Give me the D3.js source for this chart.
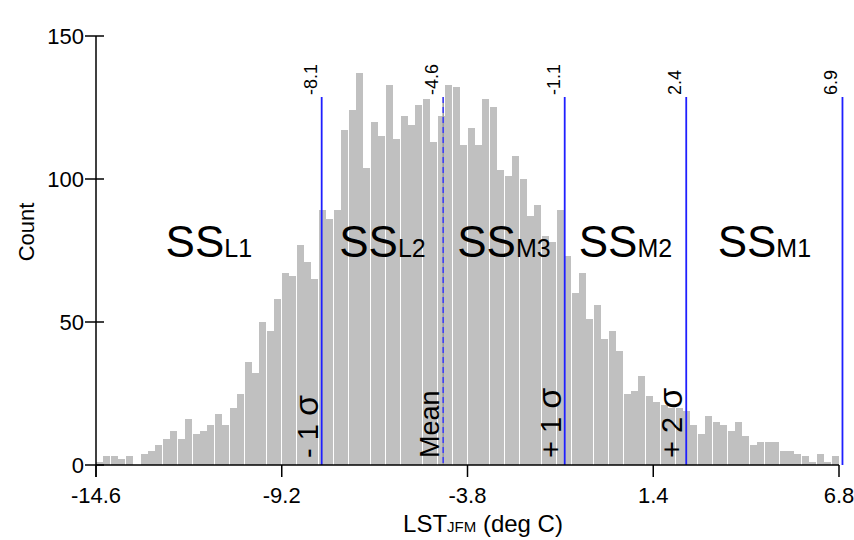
<!DOCTYPE html>
<html><head><meta charset="utf-8">
<script src="https://cdn.jsdelivr.net/npm/d3@7"></script>
<style>body{margin:0;background:#fff} text{font-family: Arial, "Liberation Sans", sans-serif; fill:#000}</style>
</head><body><svg id="c" width="854" height="540"></svg>
<script>
// ---- data ----
const binStart = -14.6;
const binWidth = 0.214;
const counts = [1,3,3,2,3,0,4,5,7,9,
  12,9,16,11,12,14,18,14,20,25,
  36,32,50,47,58,67,66,77,71,65,
  89,86,89,117,124,137,104,120,115,133,
  114,122,119,126,128,113,122,133,132,112,
  118,112,128,125,103,101,108,100,87,91,
  80,78,89,73,60,67,51,56,44,47,
  40,25,26,31,24,22,21,20,20,19,
  14,11,17,15,14,12,15,10,7,8,
  8,8,5,5,4,3,1,4,1,3];
const xTickValues = [-14.6, -9.25, -3.9, 1.45, 6.8];
const xTickLabels = ["-14.6", "-9.2", "-3.8", "1.4", "6.8"];
const yTickValues = [0, 50, 100, 150];
const cutValues = [-8.1, -4.6, -1.1, 2.4, 6.9];
const cutLabels = ["-8.1", "-4.6", "-1.1", "2.4", "6.9"];
const sigmaPrefix = ["-1", "Mean", "+1", "+2"];
const classMain = ["SS", "SS", "SS", "SS", "SS"];
const classSub = ["L1", "L2", "M3", "M2", "M1"];
const classBounds = [-14.6, -8.1, -4.6, -1.1, 2.4, 6.9];

// ---- layout ----
const svg = d3.select("#c");
const L = 96, R = 839, T = 36, B = 465;
const x = d3.scaleLinear().domain([-14.6, 6.8]).range([L, R]);
const y = d3.scaleLinear().domain([0, 150]).range([B, T]);

const bins = counts.map((c, i) => ({x0: binStart + i * binWidth, x1: binStart + (i + 1) * binWidth, c}));

// bars
svg.append("g").selectAll("rect").data(bins).join("rect")
  .attr("x", d => Math.round(x(d.x0)))
  .attr("width", d => Math.floor(x(d.x1) - x(d.x0)))
  .attr("y", d => Math.round(y(d.c)))
  .attr("height", d => B - Math.round(y(d.c)))
  .attr("fill", "#c0c0c0")
  .attr("shape-rendering", "crispEdges");

// cut lines
const lineTop = 97;
cutValues.forEach((v, i) => {
  if (i === 1) {
    svg.append("line").attr("x1", x(v)).attr("x2", x(v)).attr("y1", lineTop).attr("y2", B)
      .attr("stroke", "#9a9a9a").attr("stroke-width", 1.5);
    svg.append("line").attr("x1", x(v)).attr("x2", x(v)).attr("y1", lineTop).attr("y2", B)
      .attr("stroke", "#3a3aff").attr("stroke-width", 1.5).attr("stroke-dasharray", "6,4");
  } else {
    svg.append("line").attr("x1", x(v)).attr("x2", x(v)).attr("y1", lineTop).attr("y2", B)
      .attr("stroke", "#1f1fff").attr("stroke-width", 1.8);
  }
  svg.append("text")
    .attr("transform", `translate(${x(v) - 5},${lineTop - 2}) rotate(-90)`)
    .attr("font-size", 18).text(cutLabels[i]);
});

// sigma labels
sigmaPrefix.forEach((p, i) => {
  const t = svg.append("text")
    .attr("transform", `translate(${x(cutValues[i]) - 4},${B - 7}) rotate(-90)`);
  if (p === "Mean") {
    t.attr("font-size", 27).text("Mean");
  } else {
    t.attr("font-size", 29).text(p.replace(/(.)(.)/, "$1 $2") + " ");
    t.append("tspan").attr("font-size", 34).text("σ");
  }
});

// class labels
classMain.forEach((m, i) => {
  const cx = x((classBounds[i] + classBounds[i + 1]) / 2);
  const t = svg.append("text").attr("x", cx).attr("y", 257).attr("text-anchor", "middle");
  t.append("tspan").attr("font-size", 44).text(m);
  t.append("tspan").attr("font-size", 25).text(classSub[i]);
});

// axes
const ax = svg.append("g").attr("stroke", "#000").attr("stroke-width", 1.5);
ax.append("line").attr("x1", L).attr("x2", R).attr("y1", B).attr("y2", B);
ax.append("line").attr("x1", L).attr("x2", L).attr("y1", T).attr("y2", B + 12);
xTickValues.forEach(v => {
  ax.append("line").attr("x1", x(v)).attr("x2", x(v)).attr("y1", B).attr("y2", B + 12);
});
yTickValues.forEach(v => {
  ax.append("line").attr("x1", L - 11).attr("x2", L + 8).attr("y1", y(v)).attr("y2", y(v));
});
xTickValues.forEach((v, i) => {
  svg.append("text").attr("x", x(v)).attr("y", 503).attr("text-anchor", "middle")
    .attr("font-size", 22).text(xTickLabels[i]);
});
yTickValues.forEach(v => {
  svg.append("text").attr("x", L - 12).attr("y", y(v) + 8).attr("text-anchor", "end")
    .attr("font-size", 22).text(v);
});

// axis titles
svg.append("text").attr("transform", `translate(34,232) rotate(-90)`).attr("text-anchor", "middle")
  .attr("font-size", 22).text("Count");
const xt = svg.append("text").attr("x", 483).attr("y", 532).attr("text-anchor", "middle").attr("font-size", 24);
xt.append("tspan").text("LST");
xt.append("tspan").attr("font-size", 15).text("JFM");
xt.append("tspan").text(" (deg C)");
</script></body></html>
